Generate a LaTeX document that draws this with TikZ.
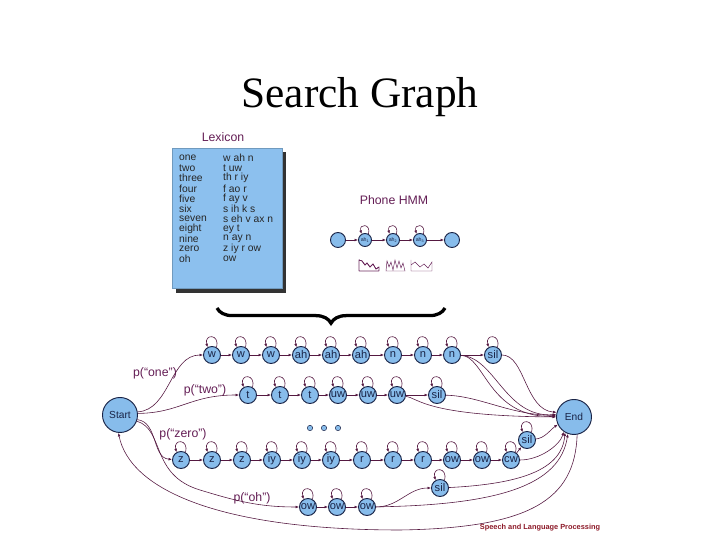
\documentclass[tikz,border=0pt]{standalone}
\usepackage{fontspec}
\setmainfont{Liberation Serif}
\setsansfont{Liberation Sans}
\usepackage{xcolor}
\usepackage{tikz}
\usetikzlibrary{arrows.meta,decorations.pathreplacing}

\definecolor{nodefill}{RGB}{135,188,235}
\definecolor{nodeline}{RGB}{25,35,70}
\definecolor{arcline}{RGB}{85,25,65}
\definecolor{labtext}{RGB}{100,30,85}
\definecolor{boxfill}{RGB}{140,192,238}
\definecolor{credit}{RGB}{140,25,40}

\tikzset{
  phone/.style={circle, draw=nodeline, fill=nodefill, line width=0.8pt, minimum size=0.51cm, inner sep=0pt, text=nodeline, font=\sffamily\fontsize{9.5}{9.5}\selectfont},
  bigphone/.style={phone, minimum size=1.05cm, font=\sffamily\fontsize{8.7}{9}\selectfont},
  hmmend/.style={phone, minimum size=0.45cm},
  hmmmid/.style={phone, minimum size=0.39cm, font=\sffamily\fontsize{4.5}{5}\selectfont},
  trans/.style={draw=arcline, line width=0.5pt, -{Latex[length=3pt,width=2.4pt]}},
  plabel/.style={text=labtext, font=\sffamily\fontsize{10.5}{12}\selectfont},
  lex/.style={anchor=west, inner sep=0pt, text=black!85, font=\sffamily\fontsize{8.8}{10}\selectfont},
  wave/.style={draw=labtext, line width=0.4pt}
}
\newcommand{\selfloop}[2][14]{\draw[trans] (#2.60) .. controls +(75:#1) and +(105:#1) .. (#2.120);}

\begin{document}
\begin{tikzpicture}[x=0.03cm, y=0.03cm]
\useasboundingbox (0,0) rectangle (720,540);
% Title
\node[font=\fontsize{37}{40}\selectfont] (title) at (360,443) {Search Graph};

% Lexicon
\node[plabel] (lexhead) at (223,403) {Lexicon};
\fill[black!80] (176,247) rectangle (286,388);
\draw[fill=boxfill, draw=boxfill!80!black, line width=0.3pt] (172,252) rectangle (282,392);
\foreach \wrd/\pron [count=\i] in {one/w ah n, two/t uw, three/th r iy, four/f ao r, five/f ay v, six/s ih k s, seven/s eh v ax n, eight/ey t, nine/n ay n, zero/z iy r ow, oh/ow}
{
  \node[lex] (word\i) at (179,{392-10.1*\i}) {\wrd};
  \node[lex] (pron\i) at (223,{392-10.1*\i}) {\pron};
}

% Phone HMM
\node[plabel] (hmmhead) at (394,340) {Phone HMM};
\node[hmmend] (hmm0) at (338,300) {};
\node[hmmmid] (hmm1) at (365,300) {ah\textsubscript{1}};
\node[hmmmid] (hmm2) at (393,300) {ah\textsubscript{2}};
\node[hmmmid] (hmm3) at (420,300) {ah\textsubscript{3}};
\node[hmmend] (hmm4) at (452,300) {};
\foreach \i [evaluate=\i as \j using int(\i+1)] in {0,...,3} \draw[trans] (hmm\i) -- (hmm\j);
\foreach \i in {1,2,3} \selfloop[11]{hmm\i}
% output densities
\draw[wave] (359,269) -- (359,280) -- (362,279) -- (365,275) -- (367,277) -- (370,273) -- (373,276) -- (376,271) -- (379,273) -- (379,269) -- cycle;
\draw[wave] (386,269) -- (387,279) -- (389,273) -- (391,278) -- (393,270) -- (395,280) -- (397,272) -- (399,279) -- (401,272) -- (403,277) -- (405,269) -- cycle;
\draw[wave] (411,280) -- (411,269) -- (432,269) -- (432,278) -- (428,272) -- (424,276) -- (420,273) -- (415,278) -- (411,275);

% brace
\draw[decorate, decoration={brace, mirror, amplitude=13pt}, line width=2.8pt] (217,232) -- (445,232);

% Start and End
\node[bigphone] (start) at (120,125) {Start};
\node[bigphone] (finish) at (574,123) {End};

% word "one"
\foreach \x/\lab [count=\i] in {212/w,241/w,271/w,301/ah,331/ah,361/ah,393/n,423/n,452/n,493/sil}
  {\node[phone] (one\i) at (\x,185) {\lab}; \selfloop{one\i}}
\foreach \i [evaluate=\i as \j using int(\i+1)] in {1,...,9} \draw[trans] (one\i) -- (one\j);

% word "two"
\foreach \x/\lab [count=\i] in {248/t,280/t,310/t,338/uw,368/uw,397/uw,437/sil}
  {\node[phone] (two\i) at (\x,145) {\lab}; \selfloop{two\i}}
\foreach \i [evaluate=\i as \j using int(\i+1)] in {1,...,6} \draw[trans] (two\i) -- (two\j);

% other words
\foreach \x in {310,324,338} \filldraw[fill=nodefill, draw=nodeline, line width=0.4pt] (\x,112) circle (2.7);

% word "zero"
\foreach \x/\lab [count=\i] in {181/z,212/z,242/z,272/iy,302/iy,331/iy,362/r,393/r,423/r,452/ow,482/ow,511/cw}
  {\node[phone] (zero\i) at (\x,80) {\lab}; \selfloop{zero\i}}
\foreach \i [evaluate=\i as \j using int(\i+1)] in {1,...,11} \draw[trans] (zero\i) -- (zero\j);
\node[phone] (zerosil) at (527,100) {sil}; \selfloop{zerosil}

% word "oh"
\foreach \x [count=\i] in {308,337,367}
  {\node[phone] (oh\i) at (\x,33) {ow}; \selfloop{oh\i}}
\draw[trans] (oh1) -- (oh2);
\draw[trans] (oh2) -- (oh3);
\node[phone] (ohsil) at (440,52) {sil}; \selfloop{ohsil}

% word probabilities
\node[plabel] (pone) at (155,167) {p(“one”)};
\node[plabel] (ptwo) at (205,150) {p(“two”)};
\node[plabel] (pzero) at (183,106) {p(“zero”)};
\node[plabel] (poh) at (252,42) {p(“oh”)};

\draw[trans] (start.10) .. controls (170,130) and (170,185) .. (one1);
\draw[trans] (start.5) .. controls (180,127) and (190,145) .. (two1);
\draw[trans] (start.-15) .. controls (158,118) and (152,82) .. (zero1);
\draw[trans] (start.-20) .. controls (165,110) and (150,65) .. (200,50) to[out=-17,in=180] (oh1);

% word ends
\draw[trans] (one9) .. controls (485,184) and (488,122) .. (finish.178);
\draw[trans] (one9) .. controls (495,183) and (505,122) .. (finish.172);
\draw[trans] (one10) .. controls (525,185) and (525,130) .. (finish.165);
\draw[trans] (two6) .. controls (418,142) and (425,124) .. (finish.180);
\draw[trans] (two7) .. controls (480,144) and (510,125) .. (finish.175);
\draw[trans] (zero12) -- (zerosil);
\draw[trans] (zero12) .. controls (540,80) and (560,95) .. (finish.235);
\draw[trans] (zerosil) .. controls (545,102) and (550,110) .. (finish.205);
\draw[trans] (oh3) to[out=0,in=180] (ohsil);
\draw[trans] (oh3) .. controls (500,35) and (560,55) .. (finish.250);
\draw[trans] (ohsil) .. controls (520,56) and (562,70) .. (finish.240);
\draw[trans] (finish.-80) .. controls (575,40) and (530,12) .. (400,10) .. controls (220,10) and (130,50) .. (start.-95);

\node[font=\sffamily\bfseries\fontsize{6.3}{7}\selectfont, text=credit] (credit) at (540,12) {Speech and Language Processing};
\end{tikzpicture}
\end{document}
